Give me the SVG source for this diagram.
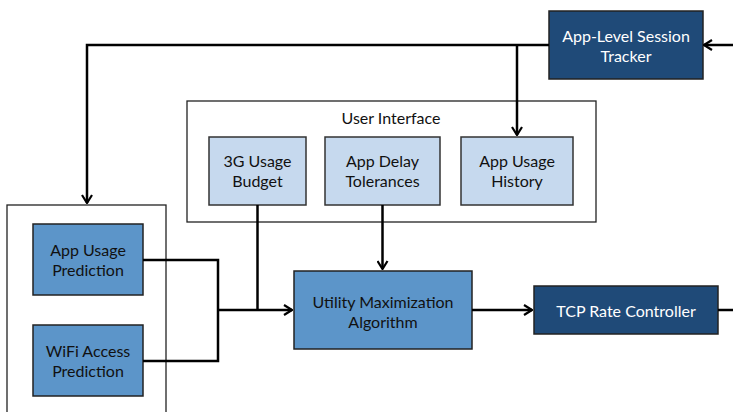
<svg xmlns="http://www.w3.org/2000/svg" width="733" height="412" viewBox="0 0 733 412">
<defs>
<marker id="arr" viewBox="0 0 10 12" refX="9" refY="6" markerWidth="10" markerHeight="12" markerUnits="userSpaceOnUse" orient="auto">
<path d="M1,1 L9,6 L1,11" fill="none" stroke="#000" stroke-width="2.2"/>
</marker>
<style>
.frame{fill:#fff;stroke:#222;stroke-width:1.3}
.dark{fill:#1F4A78;stroke:#222;stroke-width:1.5}
.mid{fill:#5C95C9;stroke:#222;stroke-width:1.5}
.light{fill:#C6D9EE;stroke:#333;stroke-width:1.5}
text{font-family:Lato,"Open Sans","Liberation Sans",sans-serif;font-size:16px;text-anchor:middle}
.w{fill:#fff}
.k{fill:#111}
.c{fill:none;stroke:#000;stroke-width:2.5}
</style>
</defs>
<g id="user-interface">
<rect class="frame" x="187" y="101" width="409" height="121"/>
<text class="k" x="391" y="124">User Interface</text>
</g>
<g id="predictor-frame">
<rect class="frame" x="7" y="205" width="159" height="215"/>
</g>
<g id="session-tracker">
<rect class="dark" x="549" y="11" width="154" height="68"/>
<text class="w" x="626" y="42">App-Level Session</text>
<text class="w" x="626" y="62">Tracker</text>
</g>
<g id="budget">
<rect class="light" x="209" y="137" width="97" height="68"/>
<text class="k" x="257.5" y="167">3G Usage</text>
<text class="k" x="257.5" y="187">Budget</text>
</g>
<g id="delay">
<rect class="light" x="325" y="137" width="115" height="68"/>
<text class="k" x="382.5" y="167">App Delay</text>
<text class="k" x="382.5" y="187">Tolerances</text>
</g>
<g id="history">
<rect class="light" x="461" y="137" width="112" height="68"/>
<text class="k" x="517" y="167">App Usage</text>
<text class="k" x="517" y="187">History</text>
</g>
<g id="usage-prediction">
<rect class="mid" x="33" y="224" width="110" height="71"/>
<text class="k" x="88" y="256">App Usage</text>
<text class="k" x="88" y="276">Prediction</text>
</g>
<g id="wifi-prediction">
<rect class="mid" x="33" y="325" width="110" height="71"/>
<text class="k" x="88" y="357">WiFi Access</text>
<text class="k" x="88" y="377">Prediction</text>
</g>
<g id="utility">
<rect class="mid" x="294" y="271" width="178" height="78"/>
<text class="k" x="383" y="308">Utility Maximization</text>
<text class="k" x="383" y="328">Algorithm</text>
</g>
<g id="tcp">
<rect class="dark" x="534" y="286" width="184" height="48"/>
<text class="w" x="626" y="317">TCP Rate Controller</text>
</g>
<g id="connectors">
<path class="c" d="M733,45 L704,45" marker-end="url(#arr)"/>
<path class="c" d="M549,45 L87,45 L87,203" marker-end="url(#arr)"/>
<path class="c" d="M517,45 L517,135" marker-end="url(#arr)"/>
<path class="c" d="M143,260 L218,260 L218,361 L143,361"/>
<path class="c" d="M218,310 L292,310" marker-end="url(#arr)"/>
<path class="c" d="M257.5,205 L257.5,310"/>
<path class="c" d="M382.5,205 L382.5,269" marker-end="url(#arr)"/>
<path class="c" d="M472,310 L532,310" marker-end="url(#arr)"/>
<path class="c" d="M718,310 L733,310"/>
</g>
</svg>
